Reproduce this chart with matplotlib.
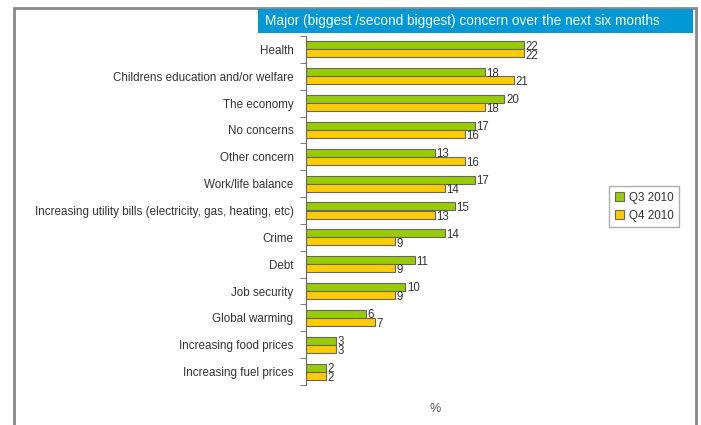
import matplotlib.pyplot as plt
import numpy as np
from matplotlib.patches import Rectangle

plt.rcParams['font.family'] = ['Liberation Sans', 'DejaVu Sans']

categories = ['Health', 'Childrens education and/or welfare', 'The economy', 'No concerns',
              'Other concern', 'Work/life balance',
              'Increasing utility bills (electricity, gas, heating, etc)', 'Crime', 'Debt',
              'Job security', 'Global warming', 'Increasing food prices', 'Increasing fuel prices']
q3_2010 = [22, 18, 20, 17, 13, 17, 15, 14, 11, 10, 6, 3, 2]
q4_2010 = [22, 21, 18, 16, 16, 14, 13, 9, 9, 9, 7, 3, 2]
series_names = ['Q3 2010', 'Q4 2010']
title = 'Major (biggest /second biggest) concern over the next six months'

green = '#99CC00'
yellow = '#FFCC00'
text_col = '#333333'

fig = plt.figure(figsize=(7.01, 4.25), dpi=100)
W, H = 701, 425

# outer frame (bottom runs off the picture)
fig.patches.append(Rectangle((14 / W, -0.1), (696 - 14) / W, 1.1 - 8 / H, transform=fig.transFigure,
                             fill=False, edgecolor='#888888', linewidth=2))
# title box
fig.patches.append(Rectangle((258 / W, 1 - 33 / H), (693 - 258) / W, 24 / H, transform=fig.transFigure,
                             facecolor='#0099D6', edgecolor='none'))
fig.text(265 / W, 1 - 21 / H, title, color='white', fontsize=9.8, va='center', ha='left')

ax = fig.add_axes([306 / W, 1 - 385 / H, 258 / W, 349 / H])
y = np.arange(len(categories))
h = 0.3
ax.barh(y - h / 2, q3_2010, height=h, color=green, edgecolor='#666666', linewidth=0.8, label=series_names[0])
ax.barh(y + h / 2, q4_2010, height=h, color=yellow, edgecolor='#666666', linewidth=0.8, label=series_names[1])

for i in range(len(categories)):
    ax.text(q3_2010[i] + 0.15, y[i] - h / 2 + 0.05, str(q3_2010[i]), fontsize=8.3, color=text_col, va='center')
    ax.text(q4_2010[i] + 0.15, y[i] + h / 2 + 0.08, str(q4_2010[i]), fontsize=8.3, color=text_col, va='center')

ax.set_ylim(len(categories) - 0.5, -0.5)
ax.set_xlim(0, 26)
ax.set_yticks(y)
ax.set_yticklabels(categories, fontsize=8.4, color=text_col)
ax.set_yticks(np.arange(-0.5, len(categories), 1), minor=True)
ax.tick_params(axis='y', which='major', length=0, pad=9)
ax.tick_params(axis='y', which='minor', length=4, color='#666666', direction='out')
ax.set_xticks([])
for s in ['top', 'right', 'bottom']:
    ax.spines[s].set_visible(False)
ax.spines['left'].set_color('#666666')
ax.set_xlabel('%', fontsize=9, color='#555555', labelpad=13)

leg = ax.legend(loc='upper left', bbox_to_anchor=(603 / W, 1 - 180 / H), bbox_transform=fig.transFigure,
                fontsize=8.4, frameon=True, fancybox=False, edgecolor='#999999', handlelength=0.8,
                handleheight=0.8, handletextpad=0.4, borderpad=0.5, labelspacing=0.5)
for t in leg.get_texts():
    t.set_color(text_col)

fig.savefig('out.png', dpi=100)
